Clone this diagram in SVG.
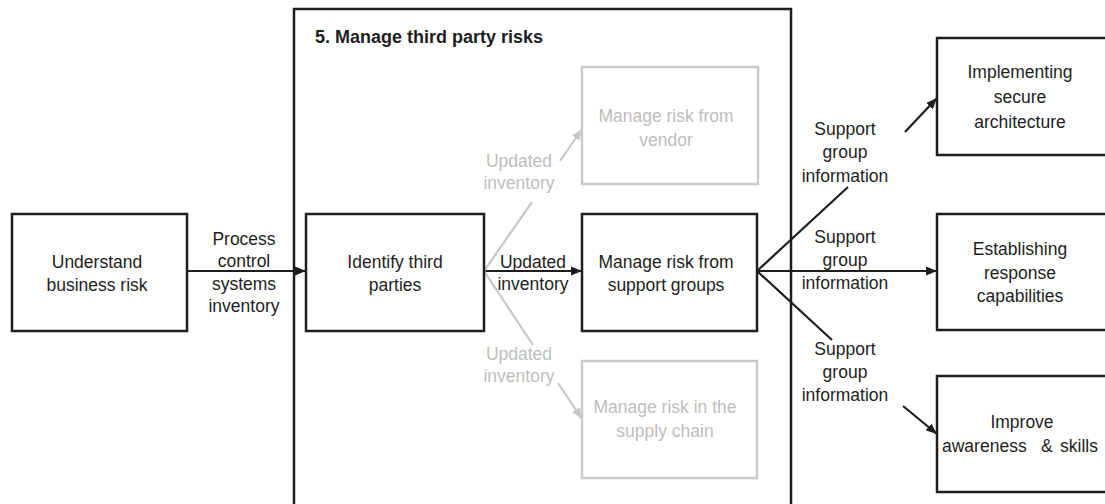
<svg xmlns="http://www.w3.org/2000/svg" width="1105" height="504" viewBox="0 0 1105 504">
<style>
.box{fill:#fff;stroke:#1e1e1e;stroke-width:2.5}
.gbox{fill:#fff;stroke:#cbcbcb;stroke-width:2.5}
.t{font-family:"Liberation Sans",Arial,sans-serif;font-size:17.5px;fill:#1e1e1e;text-anchor:middle}
.g{fill:#bdbdbd}
.title{font-family:"Liberation Sans",Arial,sans-serif;font-size:18px;font-weight:bold;fill:#1e1e1e}
.ln{fill:none;stroke:#1e1e1e;stroke-width:2.2}
.gln{fill:none;stroke:#c8c8c8;stroke-width:2.2}
</style>
<defs>
<marker id="ab" markerUnits="userSpaceOnUse" markerWidth="12" markerHeight="10" refX="11" refY="5" orient="auto"><path d="M0,0.5 L11,5 L0,9.5 Z" fill="#1e1e1e"/></marker>
<marker id="ag" markerUnits="userSpaceOnUse" markerWidth="12" markerHeight="10" refX="11" refY="5" orient="auto"><path d="M0,0.5 L11,5 L0,9.5 Z" fill="#c8c8c8"/></marker>
</defs>
<rect width="1105" height="504" fill="#fff"/>
<g id="container">
<rect x="294" y="9" width="497" height="520" fill="none" stroke="#1e1e1e" stroke-width="2.5"/>
<text class="title" x="315" y="43">5. Manage third party risks</text>
</g>
<g id="connectors">
<line class="ln" x1="187" y1="271" x2="306" y2="271" marker-end="url(#ab)"/>
<line class="ln" x1="484" y1="271" x2="582" y2="271" marker-end="url(#ab)"/>
<line class="gln" x1="484" y1="271" x2="532" y2="202"/>
<line class="gln" x1="560" y1="161" x2="582" y2="129" marker-end="url(#ag)"/>
<line class="gln" x1="484" y1="271" x2="533" y2="345"/>
<line class="gln" x1="558" y1="383" x2="582" y2="419" marker-end="url(#ag)"/>
<line class="ln" x1="757" y1="271" x2="848" y2="187"/>
<line class="ln" x1="905" y1="132" x2="937" y2="98" marker-end="url(#ab)"/>
<line class="ln" x1="757" y1="271" x2="937" y2="271" marker-end="url(#ab)"/>
<line class="ln" x1="757" y1="271" x2="832" y2="340"/>
<line class="ln" x1="903" y1="406" x2="937" y2="434" marker-end="url(#ab)"/>
<text class="t" x="244" y="245">Process</text>
<text class="t" x="244" y="267">control</text>
<text class="t" x="244" y="290">systems</text>
<text class="t" x="244" y="312">inventory</text>
<text class="t" x="533" y="268">Updated</text>
<text class="t" x="533" y="290">inventory</text>
<text class="t g" x="519" y="167">Updated</text>
<text class="t g" x="519" y="189">inventory</text>
<text class="t g" x="519" y="360">Updated</text>
<text class="t g" x="519" y="382">inventory</text>
<text class="t" x="845" y="135">Support</text>
<text class="t" x="845" y="158">group</text>
<text class="t" x="845" y="182">information</text>
<text class="t" x="845" y="243">Support</text>
<text class="t" x="845" y="266">group</text>
<text class="t" x="845" y="289">information</text>
<text class="t" x="845" y="355">Support</text>
<text class="t" x="845" y="378">group</text>
<text class="t" x="845" y="401">information</text>
</g>
<g id="understand">
<rect class="box" x="12" y="214" width="175" height="117"/>
<text class="t" x="97" y="268">Understand</text>
<text class="t" x="97" y="291">business risk</text>
</g>
<g id="identify">
<rect class="box" x="306" y="214" width="178" height="117"/>
<text class="t" x="395" y="268">Identify third</text>
<text class="t" x="395" y="291">parties</text>
</g>
<g id="support-groups">
<rect class="box" x="582" y="214" width="175" height="117"/>
<text class="t" x="666" y="268">Manage risk from</text>
<text class="t" x="666" y="291">support groups</text>
</g>
<g id="vendor">
<rect class="gbox" x="582" y="67" width="176" height="117"/>
<text class="t g" x="666" y="122">Manage risk from</text>
<text class="t g" x="666" y="146">vendor</text>
</g>
<g id="supply-chain">
<rect class="gbox" x="582" y="361" width="175" height="117"/>
<text class="t g" x="665" y="413">Manage risk in the</text>
<text class="t g" x="665" y="437">supply chain</text>
</g>
<g id="architecture">
<rect class="box" x="937" y="38" width="180" height="117"/>
<text class="t" x="1020" y="78">Implementing</text>
<text class="t" x="1020" y="103">secure</text>
<text class="t" x="1020" y="128">architecture</text>
</g>
<g id="response">
<rect class="box" x="937" y="214" width="180" height="116"/>
<text class="t" x="1020" y="255">Establishing</text>
<text class="t" x="1020" y="279">response</text>
<text class="t" x="1020" y="302">capabilities</text>
</g>
<g id="awareness">
<rect class="box" x="937" y="376" width="180" height="116"/>
<text class="t" x="1022" y="428">Improve</text>
<text class="t" y="452" style="text-anchor:start"><tspan x="942">awareness</tspan><tspan x="1041">&amp;</tspan><tspan x="1060">skills</tspan></text>
</g>
</svg>
